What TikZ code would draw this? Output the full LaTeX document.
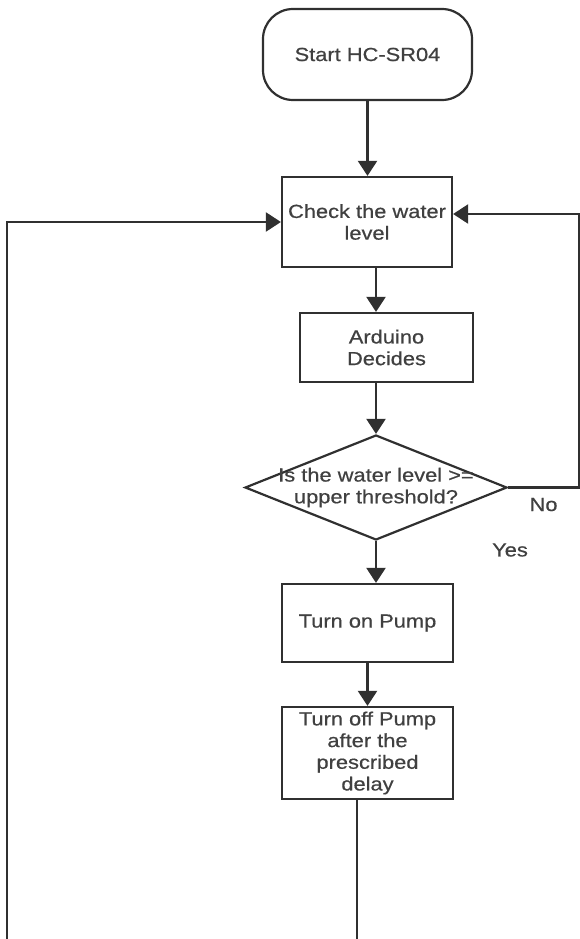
\documentclass[tikz,border=0pt]{standalone}
\usepackage{fontspec}
\setmainfont{Liberation Sans}[FakeStretch=1.15,FakeBold=0.6]
\usepackage{xcolor}
\usetikzlibrary{arrows.meta,shapes.geometric}
\definecolor{ink}{HTML}{303030}
\definecolor{txt}{HTML}{404040}

\begin{document}
\begin{tikzpicture}[x=1pt,y=-1pt,line width=2.2pt,color=ink,text=txt,
  >={Triangle[length=15pt,width=19pt]},
  font=\fontsize{19}{21.7}\selectfont,
  box/.style={rectangle,draw,inner sep=0pt,align=center},
  startbox/.style={rectangle,draw,rounded corners=30pt,inner sep=0pt,
    minimum width=209pt,minimum height=91pt},
  decision/.style={diamond,draw,inner sep=0pt,
    minimum width=262pt,minimum height=105pt}]
\useasboundingbox (0,0) rectangle (580,939);

% Les blocs
\node [startbox] (start) at (367.5,54.5) {Start HC-SR04};
\node [box,minimum width=170pt,minimum height=90pt] (check) at (367,222) {Check the water\\level};
\node [box,minimum width=173pt,minimum height=69pt] (arduino) at (386.5,347.5) {Arduino\\Decides};
\node [decision,label={[align=center]center:{Is the water level >=\\upper threshold?}}] (decide) at (376,487.5) {};
\node [box,minimum width=171pt,minimum height=78pt] (pump) at (367.5,623) {Turn on Pump};
\node [box,minimum width=171pt,minimum height=92pt] (off) at (367.5,753) {Turn off Pump\\after the\\prescribed\\delay};
\node (yes) at (510,550) {Yes};

\coordinate (rside) at (579,487.5);
\coordinate (lbot) at (7,939);
\coordinate (bot) at (357,939);

% Les fleches
\draw[->] (start.south) -- (check.north -| start);
\draw[->] (check.south -| decide) -- (arduino.north -| decide);
\draw[->] (arduino.south -| decide) -- (decide.north);
\draw[->] (decide.south) -- (pump.north -| decide);
\draw[->] (pump) -- (off);
\draw[->] (decide.east) -- node[below=6pt] (no) {No} (rside) |- ([yshift=8pt]check.east);
\draw[->] (lbot) |- (check.west);
\draw (off.south -| bot) -- (bot);
\end{tikzpicture}
\end{document}
